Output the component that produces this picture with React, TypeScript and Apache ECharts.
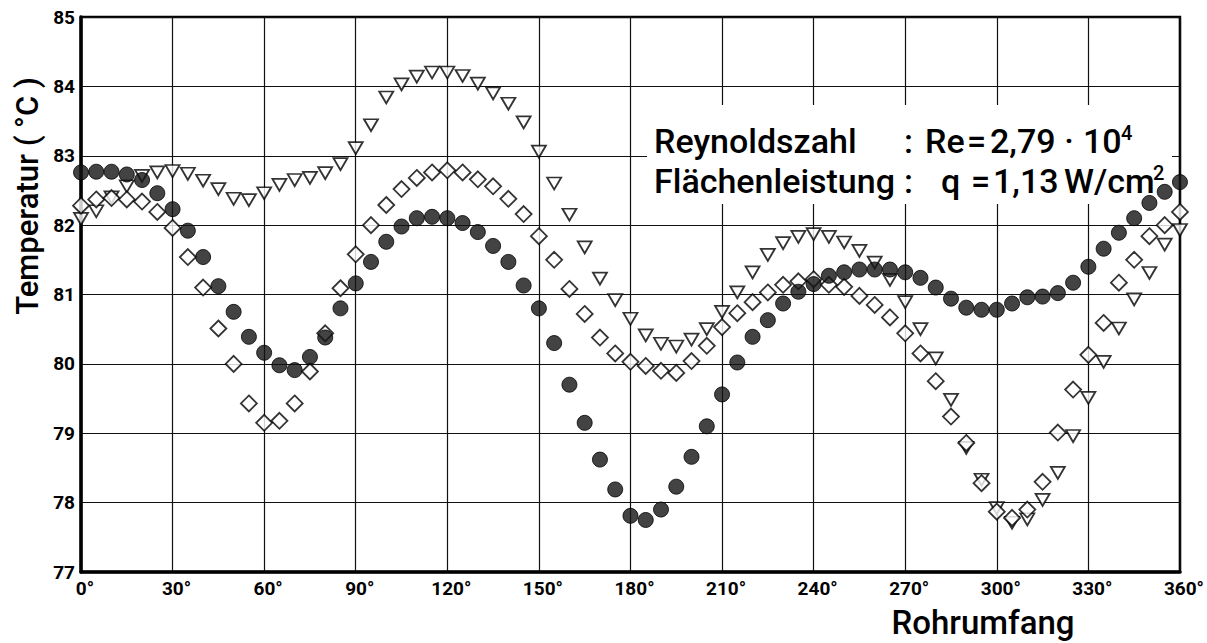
import React, { useEffect, useRef } from "react";
import * as echarts from "echarts";

// Rohrumfang (degrees)
const angles = [
  0, 5, 10, 15, 20, 25, 30, 35, 40, 45, 50, 55,
  60, 65, 70, 75, 80, 85, 90, 95, 100, 105, 110, 115,
  120, 125, 130, 135, 140, 145, 150, 155, 160, 165, 170, 175,
  180, 185, 190, 195, 200, 205, 210, 215, 220, 225, 230, 235,
  240, 245, 250, 255, 260, 265, 270, 275, 280, 285, 290, 295,
  300, 305, 310, 315, 320, 325, 330, 335, 340, 345, 350, 355,
  360,
];

// filled circles
const circleTemps = [
  82.76, 82.77, 82.77, 82.73, 82.65, 82.46, 82.23, 81.92, 81.54, 81.12, 80.75, 80.39,
  80.16, 79.98, 79.91, 80.10, 80.38, 80.80, 81.16, 81.47, 81.76, 81.98, 82.10, 82.12,
  82.10, 82.03, 81.90, 81.70, 81.47, 81.13, 80.80, 80.30, 79.70, 79.15, 78.62, 78.19,
  77.81, 77.75, 77.90, 78.23, 78.66, 79.10, 79.56, 80.02, 80.39, 80.63, 80.87, 81.04,
  81.15, 81.27, 81.32, 81.36, 81.36, 81.36, 81.32, 81.24, 81.10, 80.94, 80.81, 80.78,
  80.78, 80.87, 80.96, 80.97, 81.02, 81.17, 81.40, 81.66, 81.89, 82.10, 82.32, 82.48,
  82.62,
];

// open diamonds
const diamondTemps = [
  82.28, 82.37, 82.39, 82.37, 82.34, 82.19, 81.96, 81.54, 81.10, 80.51, 80.00, 79.43,
  79.15, 79.18, 79.43, 79.89, 80.44, 81.09, 81.58, 82.00, 82.29, 82.52, 82.68, 82.76,
  82.79, 82.76, 82.66, 82.56, 82.38, 82.16, 81.84, 81.50, 81.08, 80.72, 80.38, 80.15,
  80.03, 79.97, 79.90, 79.87, 80.04, 80.26, 80.53, 80.73, 80.89, 81.03, 81.14, 81.19,
  81.22, 81.14, 81.11, 80.98, 80.85, 80.67, 80.44, 80.15, 79.75, 79.24, 78.86, 78.28,
  77.87, 77.78, 77.90, 78.30, 79.01, 79.63, 80.13, 80.59, 81.17, 81.50, 81.84, 82.00,
  82.19,
];

// open downward triangles
const triangleTemps = [
  82.09, 82.20, 82.40, 82.56, 82.71, 82.76, 82.78, 82.74, 82.64, 82.52, 82.38, 82.36,
  82.46, 82.58, 82.65, 82.68, 82.75, 82.88, 83.11, 83.44, 83.84, 84.03, 84.14, 84.20,
  84.20, 84.15, 84.04, 83.90, 83.75, 83.48, 83.06, 82.60, 82.15, 81.68, 81.23, 80.92,
  80.65, 80.41, 80.29, 80.25, 80.35, 80.50, 80.75, 81.03, 81.32, 81.57, 81.74, 81.83,
  81.87, 81.83, 81.75, 81.63, 81.46, 81.21, 80.89, 80.50, 80.08, 79.48, 78.79, 78.33,
  77.92, 77.71, 77.76, 78.04, 78.43, 78.96, 79.51, 80.03, 80.51, 80.93, 81.31, 81.72,
  81.93,
];

const xMin = 0;
const xMax = 360;
const xStep = 30;
const yMin = 77;
const yMax = 85;
const yStep = 1;

const FONT = "Roboto";

export default function App() {
  const ref = useRef<HTMLDivElement>(null);

  useEffect(() => {
    if (!ref.current) return;
    const chart = echarts.init(ref.current, null, { renderer: "svg" });
    const pts = (vals: number[]) => angles.map((a, i) => [a, vals[i]]);

    const txt = (
      text: string,
      x: number,
      y: number,
      size: number,
      align: string = "left",
      extra: any = {}
    ) => ({
      type: "text",
      x,
      y,
      z: 20,
      silent: true,
      ...extra,
      style: {
        text,
        fill: "#000",
        fontFamily: FONT,
        fontSize: size,
        fontWeight: 500,
        textAlign: align,
        textVerticalAlign: "middle",
      },
    });

    chart.setOption({
      animation: false,
      backgroundColor: "#fff",
      grid: {
        left: 81,
        top: 17,
        width: 1106,
        height: 555,
        show: true,
        borderColor: "#000",
        borderWidth: 2.5,
        backgroundColor: "transparent",
      },
      xAxis: {
        type: "value",
        min: xMin,
        max: xMax,
        interval: xStep,
        axisLine: { show: true, onZero: false, lineStyle: { color: "#000", width: 3.5 } },
        axisTick: { show: false },
        splitLine: { show: true, lineStyle: { color: "#111", width: 1.2 } },
        axisLabel: {
          color: "#000",
          fontFamily: FONT,
          fontWeight: "bold",
          fontSize: 19,
          margin: 7,
          padding: [0, 0, 0, 8],
          showMaxLabel: true,
          showMinLabel: true,
          formatter: (v: number) => `${v}°`,
        },
      },
      yAxis: {
        type: "value",
        min: yMin,
        max: yMax,
        interval: yStep,
        axisLine: { show: true, onZero: false, lineStyle: { color: "#000", width: 3.5 } },
        axisTick: { show: false },
        splitLine: { show: true, lineStyle: { color: "#111", width: 1.2 } },
        axisLabel: {
          color: "#000",
          fontFamily: FONT,
          fontWeight: "bold",
          fontSize: 19,
          margin: 6,
        },
      },
      series: [
        {
          type: "scatter",
          name: "Dreieck",
          data: pts(triangleTemps),
          symbol: "triangle",
          symbolRotate: 180,
          symbolSize: [14, 12],
          itemStyle: { color: "#fff", borderColor: "#000", borderWidth: 1.8 },
          emphasis: { disabled: true },
          z: 3,
        },
        {
          type: "scatter",
          name: "Raute",
          data: pts(diamondTemps),
          symbol: "diamond",
          symbolSize: 16,
          itemStyle: { color: "#fff", borderColor: "#000", borderWidth: 1.8 },
          emphasis: { disabled: true },
          z: 4,
        },
        {
          type: "scatter",
          name: "Kreis",
          data: pts(circleTemps),
          symbol: "circle",
          symbolSize: 15,
          itemStyle: { color: "#141414", borderColor: "#000", borderWidth: 1 },
          emphasis: { disabled: true },
          z: 5,
        },
      ],
      graphic: [
        {
          type: "rect",
          z: 1,
          silent: true,
          shape: { x: 647, y: 105, width: 525, height: 99 },
          style: { fill: "#fff" },
        },
        txt("Reynoldszahl", 654, 141, 34),
        txt(":", 904, 141, 34),
        txt("Re", 925, 141, 34),
        txt("=", 967, 141, 34),
        txt("2,79", 990, 141, 34),
        txt("·", 1069, 141, 34, "center"),
        txt("10", 1083, 141, 34),
        txt("4", 1121, 133, 20),
        txt("Flächenleistung", 654, 181, 34),
        txt(":", 904, 181, 34),
        txt("q", 941, 181, 34),
        txt("=", 971, 181, 34),
        txt("1,13", 993, 181, 34),
        txt("W/cm", 1064, 181, 34),
        txt("2", 1153, 173, 20),
        txt("Rohrumfang", 983, 622, 33, "center"),
        txt("Temperatur ( °C )", 27, 196, 31, "center", { rotation: Math.PI / 2 }),
      ],
    });

    return () => chart.dispose();
  }, []);

  return (
    <div
      ref={ref}
      style={{ position: "fixed", left: 0, top: 0, width: 1207, height: 643, background: "#fff" }}
    />
  );
}
